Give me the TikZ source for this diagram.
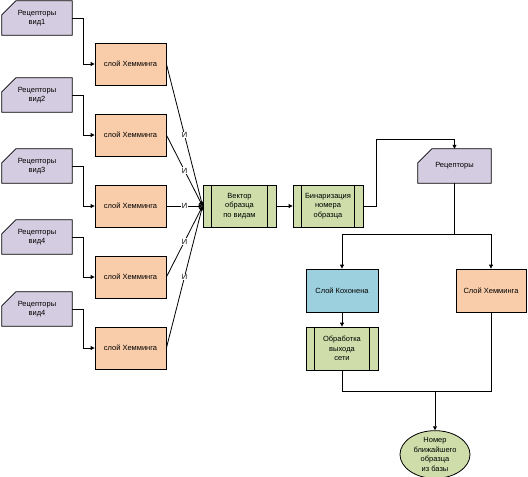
\documentclass[tikz,border=0pt]{standalone}
\usepackage{fontspec}
\setmainfont{Liberation Sans}
\usetikzlibrary{arrows.meta,shapes.geometric,backgrounds}
\definecolor{lav}{RGB}{212,204,224}
\definecolor{peach}{RGB}{249,205,169}
\definecolor{sage}{RGB}{206,221,170}
\definecolor{skyb}{RGB}{157,208,222}
\begin{document}
\begin{tikzpicture}[x=1pt,y=-1pt,
  every node/.style={font=\fontsize{7.5}{9.5}\selectfont, align=center},
  line/.style={draw=black, line width=0.8pt},
  arr/.style={line, -{Triangle[length=4pt,width=4pt]}},
  recbox/.style={minimum width=70pt, minimum height=34pt, inner sep=1pt},
  recshape/.style={fill=lav, draw=black, line width=0.8pt},
  hambox/.style={draw=black, line width=0.8pt, fill=peach, minimum width=71pt, minimum height=42pt, inner sep=1pt},
  procbox/.style={draw=black, line width=0.8pt, fill=sage, minimum width=72pt, minimum height=42pt, inner sep=1pt},
  kohbox/.style={draw=black, line width=0.8pt, fill=skyb, minimum width=72pt, minimum height=43pt, inner sep=1pt},
  endbox/.style={ellipse, draw=black, line width=0.8pt, fill=sage, minimum width=70pt, minimum height=44pt, inner sep=0pt},
  lbl/.style={fill=white, inner sep=0.6pt}
]
\useasboundingbox (0,0) rectangle (528,477);

% receptor nodes (shapes on background)
\node[recbox] (r1) at (37,18) {Рецепторы\\вид1};
\node[recbox] (r2) at (37,95) {Рецепторы\\вид2};
\node[recbox] (r3) at (37,166) {Рецепторы\\вид3};
\node[recbox] (r4) at (37,237) {Рецепторы\\вид4};
\node[recbox] (r5) at (37,309) {Рецепторы\\вид4};
\node[recbox, minimum width=73pt] (rr) at (454.5,166) {Рецепторы};

\begin{scope}[on background layer]
\foreach \n in {r1,r2,r3,r4,r5,rr}{
  \filldraw[recshape] (\n.south west) -- (\n.south east) -- (\n.north east)
    -- ([xshift=14pt]\n.north west) -- ([yshift=-14pt]\n.north west) -- cycle;
}
\end{scope}

% Hamming layers
\node[hambox] (h1) at (130.5,64) {слой Хемминга};
\node[hambox] (h2) at (130.5,135) {слой Хемминга};
\node[hambox] (h3) at (130.5,206) {слой Хемминга};
\node[hambox] (h4) at (130.5,277) {слой Хемминга};
\node[hambox] (h5) at (130.5,348) {слой Хемминга};

% process boxes
\node[procbox, minimum width=73pt] (v) at (239.5,206) {Вектор\\образца\\по видам};
\node[procbox, minimum width=70pt] (b) at (328,206) {Бинаризация\\номера\\образца};
\node[kohbox] (k) at (342,290.5) {Слой Кохонена};
\node[hambox, minimum width=70pt, minimum height=43pt] (hr) at (491,290.5) {Слой Хемминга};
\node[procbox, minimum height=43pt] (p) at (342,348.5) {Обработка\\выхода\\сети};
\node[endbox] (e) at (435,454.5) {Номер\\ближайшего\\образца\\из базы};

\foreach \n in {v,b,p}{
  \draw[line] ([xshift=9pt]\n.north west) -- ([xshift=9pt]\n.south west);
  \draw[line] ([xshift=-9pt]\n.north east) -- ([xshift=-9pt]\n.south east);
}

% connectors receptors -> Hamming
\foreach \i in {1,...,5}{
  \draw[arr] (r\i.east) -- ++(11,0) |- (h\i.west);
}
% Hamming -> vector
\foreach \i in {1,...,5}{
  \draw[arr] (h\i.east) -- node[lbl]{И} (v.west);
}
\draw[arr] (v) -- (b);

\coordinate (c1) at (376,139);
\draw[arr] (b.east) -| (c1) -| (rr.north);

\coordinate (sp) at (454.5,234);
\draw[line] (rr.south) -- (sp);
\draw[arr] (sp) -| (k.north);
\draw[arr] (sp) -| (hr.north);
\draw[arr] (k) -- (p);

\coordinate (jn) at (435,391);
\draw[line] (p.south) |- (jn);
\draw[line] (hr.south) |- (jn);
\draw[arr] (jn) -- (e.north);
\end{tikzpicture}
\end{document}
